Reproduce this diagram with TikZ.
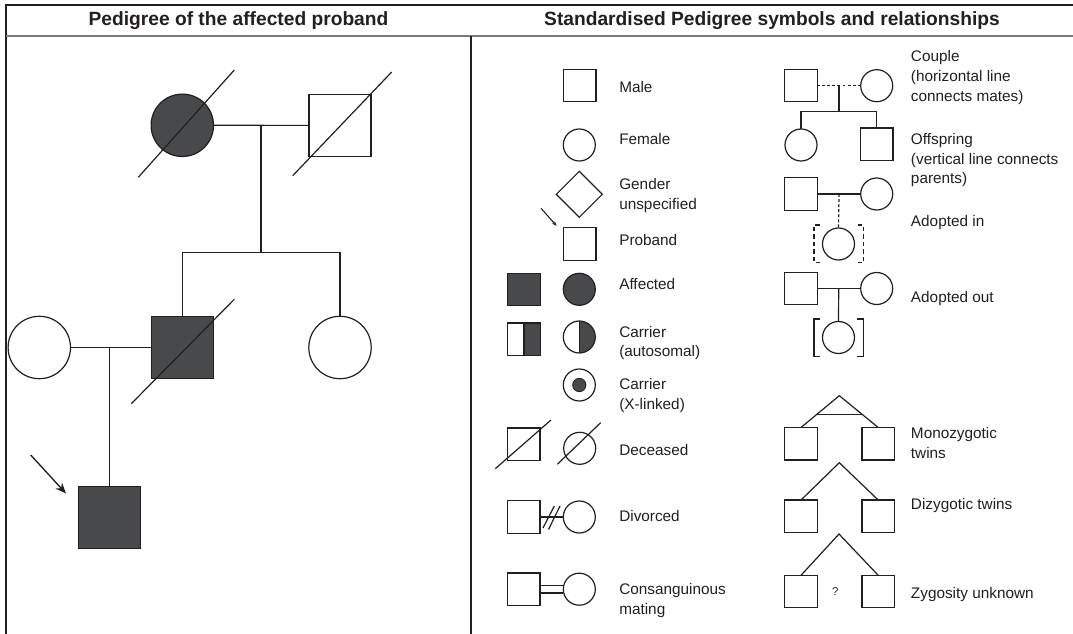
\documentclass[tikz,border=0pt]{standalone}
\usepackage{fontspec}
\setmainfont{Liberation Sans}
\usetikzlibrary{shapes.geometric,arrows.meta,calc}
\definecolor{ink}{HTML}{231F20}
\definecolor{affgray}{HTML}{48494B}
\definecolor{rulegray}{HTML}{7A7A7A}

\begin{document}
\begin{tikzpicture}[x=0.75pt,y=-0.75pt,
  sym/.style={draw=ink, line width=0.9pt, inner sep=0pt, outer sep=0pt},
  bigsq/.style={sym, rectangle, minimum size=46.5pt},
  bigci/.style={sym, circle, minimum size=46.8pt},
  sq/.style={sym, rectangle, minimum size=24.3pt},
  ci/.style={sym, circle, minimum size=24pt},
  aff/.style={fill=affgray},
  halfaff/.style={path picture={
      \fill[affgray] (path picture bounding box.north) rectangle (path picture bounding box.south east);
      \draw[ink, line width=0.9pt] (path picture bounding box.north) -- (path picture bounding box.south);}},
  ln/.style={draw=ink, line width=0.9pt},
  dotline/.style={ln, dash pattern=on 2.2pt off 1.6pt},
  brdash/.style={ln, dash pattern=on 3.2pt off 2.4pt},
  % multi-line labels are placed by the baseline of their last line
  lab/.style={anchor=base west, align=left, inner sep=0pt, text=ink,
    font=\fontsize{11.5}{14.7}\selectfont},
  hd/.style={anchor=base, inner sep=0pt, text=ink,
    font=\fontsize{14.4}{16}\selectfont\bfseries}
]
\useasboundingbox[fill=white] (0,0) rectangle (1073,634);

% frame, header rule and column divider
\draw[ink, line width=1.6pt] (6,634) -- (6,5) -- (1073,5);
\draw[rulegray, line width=1pt] (6,36) -- (1073,36);
\draw[ink, line width=0.9pt] (471,36) -- (471,634);

\node[hd] (h1) at (238.5,25.5) {Pedigree of the affected proband};
\node[hd] (h2) at (772,25.5) {Standardised Pedigree symbols and relationships};

% ---------- pedigree of the proband ----------
\node[bigci, aff] (gm) at (182.3,125.3) {};
\node[bigsq] (gf) at (340,125.4) {};
\node[bigsq, aff] (fa) at (182.3,347.5) {};
\node[bigci] (au) at (340,347.5) {};
\node[bigci] (mo) at (39.3,347.5) {};
\node[bigsq, aff] (pb) at (109.5,517.3) {};

\draw[ln] (gm.east) -- (gf.west);
\coordinate (m1) at (261,125.4);
\coordinate (s1) at (261,252.7);
\draw[ln] (m1) -- (s1);
\draw[ln] (fa.north) |- (s1) -| (au.north);
\draw[ln] (mo.east) -- (fa.west);
\draw[ln] (pb.north) -- (pb.north |- mo.east);

% deceased marks
\draw[ln] (138.3,177.3) -- (234.3,70);
\draw[ln] (292.7,175.7) -- (391.7,72);
\draw[ln] (131.3,403.7) -- (234.3,299.3);

% proband arrow
\coordinate (pa) at (30.7,455);
\coordinate (pt) at (66,493.5);
\draw[ln, line width=1pt, -{Stealth[length=8pt,width=6.5pt]}] (pa) -- (pt);

% ---------- symbol key, first column ----------
\node[sq] (male) at (579.7,85.7) {};
\node[lab] (tmale) at (619,93) {Male};

\node[ci] (female) at (579.3,145) {};
\node[lab] (tfemale) at (619,144.5) {Female};

\node[sym, diamond, minimum width=34.5pt, minimum height=34.5pt] (unsp) at (579.3,194.3) {};
\node[lab] (tunsp) at (619,209.1) {Gender\\unspecified};

\coordinate (pra) at (541,208.3);
\coordinate (prb) at (556.5,225.8);
\draw[ln, line width=0.8pt, -{Stealth[length=3.5pt,width=2.8pt]}] (pra) -- (prb);
\node[sq] (prob) at (579.7,244) {};
\node[lab] (tprob) at (619,246) {Proband};

\node[sq, aff] (affm) at (524,289.7) {};
\node[ci, aff] (afff) at (579.3,289.3) {};
\node[lab] (taff) at (619,289.5) {Affected};

\node[sq, halfaff] (carm) at (524,339.2) {};
\node[ci, halfaff] (carf) at (579.3,337) {};
\node[lab] (tcar1) at (619,356.6) {Carrier\\(autosomal)};

\node[ci] (xlf) at (579.3,385) {};
\node[circle, fill=affgray, draw=ink, line width=0.6pt, minimum size=10pt, inner sep=0pt] (xdot) at (xlf) {};
\node[lab] (tcar2) at (619,409.1) {Carrier\\(X-linked)};

\node[sq] (decm) at (523.8,444.2) {};
\draw[ln] (495.3,468.7) -- (551,420);
\node[ci] (decf) at (579.7,448.3) {};
\draw[ln] (557.3,464.3) -- (600.7,422.7);
\node[lab] (tdec) at (619,455.5) {Deceased};

\node[sq] (divm) at (523.8,517) {};
\node[ci] (divf) at (579.3,517) {};
\draw[ln] (divm.east) -- (divf.west);
\draw[ln] (543,528) -- (554.3,506);
\draw[ln] (548.5,529.5) -- (560,506);
\node[lab] (tdiv) at (619,521) {Divorced};

\node[sq] (conm) at (523.8,589.2) {};
\node[ci] (conf) at (579.3,589.2) {};
\draw[ln] ([yshift=2.85pt]conm.east) -- ([yshift=2.85pt]conf.west);
\draw[ln] ([yshift=-2.85pt]conm.east) -- ([yshift=-2.85pt]conf.west);
\node[lab] (tcon) at (619,614.1) {Consanguinous\\mating};

% ---------- symbol key, second column ----------
\node[sq] (cpm) at (801,85.7) {};
\node[ci] (cpf) at (876.7,85.7) {};
\draw[dotline] (cpm.east) -- (cpf.west);
\coordinate (cpj) at (839,85.7);
\coordinate (cps) at (839,111.3);
\draw[ln] (cpj) -- (cps);
\node[ci] (off1) at (801,145) {};
\node[sq] (off2) at (876.7,144.2) {};
\draw[ln] (off1.north) |- (cps) -| (off2.north);
\node[lab] (tcp) at (910.7,101.2) {Couple\\(horizontal line\\connects mates)};
\node[lab] (toff) at (910.7,183.7) {Offspring\\(vertical line connects\\parents)};

\node[sq] (aim) at (801,194) {};
\node[ci] (aif) at (876.7,194) {};
\draw[ln] (aim.east) -- (aif.west);
\coordinate (aij) at (839,194);
\node[ci] (aic) at (838.5,244) {};
\draw[dotline] (aij) -- (aic.north);
\draw[brdash] (819.5,225) -- (814,225) -- (814,262.7) -- (819.5,262.7);
\draw[brdash] (857.8,225) -- (863.3,225) -- (863.3,262.7) -- (857.8,262.7);
\node[lab] (tai) at (910.7,226.5) {Adopted in};

\node[sq] (aom) at (801,288.5) {};
\node[ci] (aof) at (876.7,288.5) {};
\draw[ln] (aom.east) -- (aof.west);
\coordinate (aoj) at (838.7,288.5);
\node[ci] (aoc) at (838.5,337.5) {};
\draw[ln] (aoj) -- (aoc.north);
\draw[ln] (820,319) -- (814,319) -- (814,356.7) -- (820,356.7);
\draw[ln] (857.3,319) -- (863.3,319) -- (863.3,356.7) -- (857.3,356.7);
\node[lab] (tao) at (910.7,303) {Adopted out};

% twins
\coordinate (mza) at (839.3,395.7);
\node[sq] (mz1) at (801,443.7) {};
\node[sq] (mz2) at (878.2,443.7) {};
\draw[ln] (mz1.north) -- (mza) -- (mz2.north);
\draw[ln] ($(mza)!0.6!(mz1.north)$) -- ($(mza)!0.6!(mz2.north)$);
\node[lab] (tmz) at (910.7,458.1) {Monozygotic\\twins};

\coordinate (dza) at (839.3,462.7);
\node[sq] (dz1) at (801,516.2) {};
\node[sq] (dz2) at (878.2,516.2) {};
\draw[ln] (dz1.north) -- (dza) -- (dz2.north);
\node[lab] (tdz) at (910.7,509) {Dizygotic twins};

\coordinate (uza) at (839,534);
\node[sq] (uz1) at (801,591.5) {};
\node[sq] (uz2) at (878.2,591.5) {};
\draw[ln] (uz1.north) -- (uza) -- (uz2.north);
\node[text=ink, inner sep=0pt, font=\fontsize{8.5}{10}\selectfont] (uzq) at (835.3,591.7) {?};
\node[lab] (tuz) at (910.7,598) {Zygosity unknown};
\end{tikzpicture}
\end{document}
